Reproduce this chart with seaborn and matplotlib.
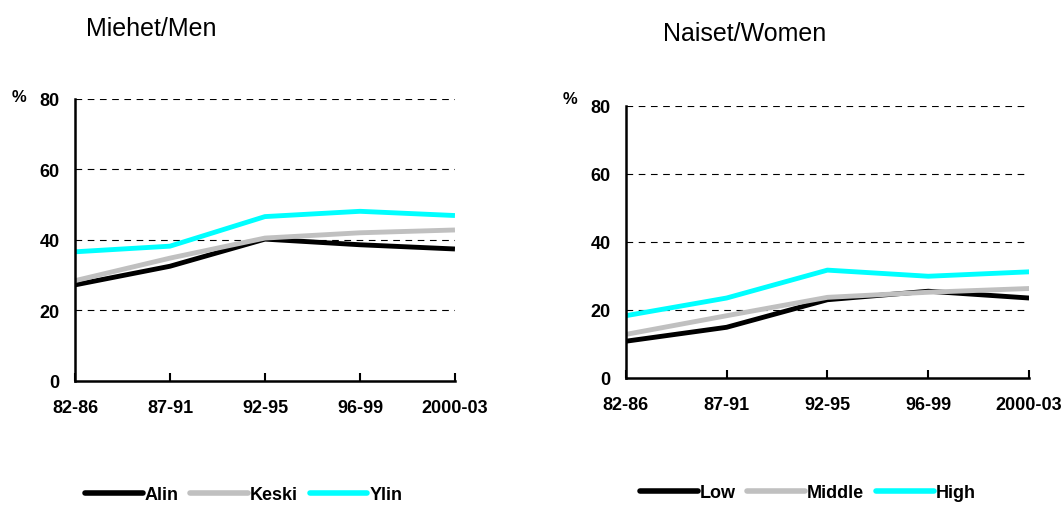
import pandas as pd
import numpy as np
import matplotlib.pyplot as plt
import seaborn as sns
from matplotlib.lines import Line2D

# =============================================================================
# DATA
# =============================================================================
periods = ['82-86', '87-91', '92-95', '96-99', '2000-03']

men_low = [27.2, 32.5, 40.2, 38.6, 37.4]
men_mid = [28.4, 34.8, 40.5, 42.0, 42.8]
men_high = [36.6, 38.2, 46.6, 48.1, 46.9]

women_low = [10.8, 14.9, 23.0, 25.5, 23.5]
women_mid = [12.8, 18.3, 23.7, 25.2, 26.3]
women_high = [18.3, 23.5, 31.7, 29.9, 31.2]

men_labels = ['Alin', 'Keski', 'Ylin']
women_labels = ['Low', 'Middle', 'High']
colors = ['black', '#c0c0c0', 'cyan']


def to_long(series, labels):
    rows = []
    for vals, lab in zip(series, labels):
        for i, v in enumerate(vals):
            rows.append({'x': i, 'period': periods[i], 'value': v, 'group': lab})
    return pd.DataFrame(rows)


df_men = to_long([men_low, men_mid, men_high], men_labels)
df_women = to_long([women_low, women_mid, women_high], women_labels)

sns.set_style('white')
plt.rcParams['font.family'] = ['Liberation Sans', 'DejaVu Sans']
plt.rcParams['text.color'] = 'black'
plt.rcParams['xtick.color'] = 'black'
plt.rcParams['ytick.color'] = 'black'

fig = plt.figure(figsize=(10.62, 5.06), dpi=100)

ax1 = fig.add_axes([0.0706, 0.2457, 0.3578, 0.5567])
ax2 = fig.add_axes([0.5892, 0.251, 0.3798, 0.538])


def draw_panel(ax, df, labels):
    sns.lineplot(
        data=df, x='x', y='value', hue='group',
        hue_order=labels, palette=colors,
        linewidth=3.5, legend=False, ax=ax,
        solid_capstyle='butt'
    )
    ax.set_xlim(0, 4)
    ax.set_ylim(0, 80)
    ax.set_yticks([0, 20, 40, 60, 80])
    ax.set_xticks(range(len(periods)))
    ax.set_xticklabels(periods)
    for y in [20, 40, 60, 80]:
        ax.axhline(y, color='black', linestyle=(0, (6, 5)), linewidth=0.8,
                   zorder=0)
    for s in ['top', 'right']:
        ax.spines[s].set_visible(False)
    for s in ['left', 'bottom']:
        ax.spines[s].set_color('black')
        ax.spines[s].set_linewidth(1.8)
    ax.tick_params(axis='x', direction='in', length=6, width=1.5,
                   bottom=True, pad=13, labelsize=13)
    ax.tick_params(axis='y', length=0, pad=11, labelsize=13)
    for t in ax.get_xticklabels() + ax.get_yticklabels():
        t.set_fontweight('bold')
    ax.set_xlabel('')
    ax.set_ylabel('')


draw_panel(ax1, df_men, men_labels)
draw_panel(ax2, df_women, women_labels)

fig.text(19 / 1062, 1 - 97 / 506, '%', fontsize=12, fontweight='bold',
         ha='center', va='center')
fig.text(570 / 1062, 1 - 99 / 506, '%', fontsize=12, fontweight='bold',
         ha='center', va='center')

fig.text(86 / 1062, 1 - 36 / 506, 'Miehet/Men', fontsize=18,
         ha='left', va='baseline')
fig.text(663 / 1062, 1 - 41 / 506, 'Naiset/Women', fontsize=18,
         ha='left', va='baseline')


def add_legend(labels, x, y):
    handles = [Line2D([0], [0], color=c, lw=4, solid_capstyle='round')
               for c in colors]
    fig.legend(handles, labels, loc='center left',
               bbox_to_anchor=(x, y), ncol=3, frameon=False,
               handlelength=3.2, handletextpad=0.1, columnspacing=0.65,
               borderaxespad=0, borderpad=0,
               prop={'weight': 'bold', 'size': 13})


add_legend(men_labels, 85 / 1062, 1 - 496 / 506)
add_legend(women_labels, 640 / 1062, 1 - 494 / 506)

plt.savefig('out.png', dpi=100)
